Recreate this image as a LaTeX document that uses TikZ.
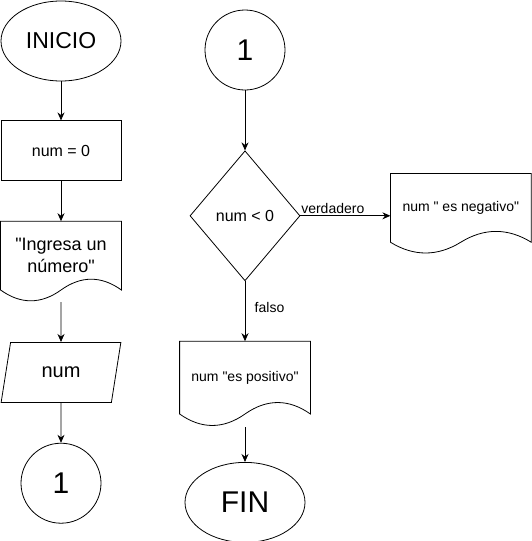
\documentclass[tikz,border=0pt]{standalone}
\usepackage{fontspec}
\setmainfont{Liberation Sans}[Ligatures=TeXOff]
\usetikzlibrary{shapes.geometric, positioning, arrows.meta}

% outline of a document box: node, width, wave height
\newcommand{\docwave}[3]{%
  \draw (#1.south west) -- (#1.north west) -- (#1.north east) -- (#1.south east)
    .. controls +(-#2/6,-#3) and +(#2/6,-#3) .. (#1.south)
    .. controls +(-#2/6,#3) and +(#2/6,#3) .. (#1.south west) -- cycle;}

\begin{document}
\begin{tikzpicture}[
				x=1pt, y=-1pt, line width=0.8pt,
				terminal/.style={ellipse, draw, minimum width=120pt, minimum height=80pt, inner sep=0pt},
				process/.style={rectangle, draw, minimum width=120pt, minimum height=60pt, font=\fontsize{16}{19}\selectfont},
				document/.style={rectangle, minimum height=68pt, inner sep=0pt, align=center, font=\fontsize{14}{17}\selectfont},
				io/.style={trapezium, draw, trapezium left angle=71.57, trapezium right angle=108.43, trapezium stretches=true, minimum width=120pt, minimum height=60pt, inner sep=0pt, font=\fontsize{20}{24}\selectfont},
				decision/.style={diamond, draw, minimum width=110pt, minimum height=130pt, inner sep=0pt, font=\fontsize{16}{19}\selectfont},
				connector/.style={circle, draw, minimum size=80pt, inner sep=0pt, font=\fontsize{30}{36}\selectfont},
				edgelabel/.style={font=\fontsize{14}{17}\selectfont},
				arrow/.style={-{Stealth[length=8pt,width=7pt]}, line width=0.8pt}
				]
				\useasboundingbox (0,0) rectangle (531,541);
				% Left column
				\node (inicio) [terminal, font=\fontsize{23}{27}\selectfont] at (61,41) {INICIO};
				\node (num0) [process, below=39pt of inicio] {num = 0};
				\node (msg) [document, minimum width=120pt, below=40pt of num0, font=\fontsize{18}{22}\selectfont] {"Ingresa un\\número"};
				\node (leer) [io, below=52pt of msg] {num};
				\node (con1) [connector, below=40pt of leer] {1};
				
				% Right column
				\node (con2) [connector] at (245,50) {1};
				\node (cond) [decision, below=60pt of con2] {num < 0};
				\node (neg) [document, minimum width=140pt, right=90pt of cond, yshift=8pt] {num " es negativo"};
				\node (pos) [document, minimum width=130pt, minimum height=72pt, below=60pt of cond] {num "es positivo"};
				\node (fin) [terminal, font=\fontsize{30}{36}\selectfont, below=48pt of pos] {FIN};
				
				% Document outlines
				\docwave{msg}{120}{14.4}
				\docwave{neg}{140}{14.4}
				\docwave{pos}{130}{15.3}
				
				% Arrows
				\draw [arrow] (inicio) -- (num0);
				\draw [arrow] (num0) -- (msg);
				\draw [arrow] ([yshift=-12pt]msg.south) -- (leer);
				\draw [arrow] (leer) -- (con1);
				\draw [arrow] (con2) -- (cond);
				\draw [arrow] (cond.east) -- node[edgelabel, above, pos=0.36, inner sep=1.5pt] {verdadero} (cond.east -| neg.west);
				\draw [arrow] (cond) -- node[edgelabel, right, pos=0.43, xshift=6pt] {falso} (pos);
				\draw [arrow] ([yshift=-13pt]pos.south) -- (fin);
			\end{tikzpicture}
\end{document}
